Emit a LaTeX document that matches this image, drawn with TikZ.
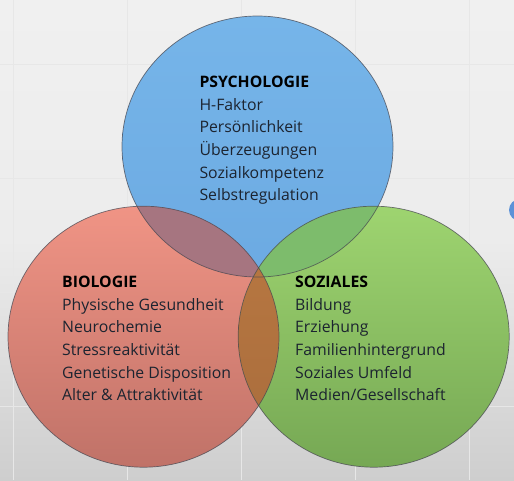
\documentclass[tikz,border=0pt]{standalone}
\usepackage{fontspec}
\setmainfont{Open Sans}
\definecolor{bgtop}{RGB}{240,240,240}
\definecolor{bgmid}{RGB}{236,236,236}
\definecolor{bgbot}{RGB}{206,206,206}
\definecolor{gridc}{RGB}{231,231,231}
\definecolor{bluetop}{RGB}{118,181,233}
\definecolor{bluebot}{RGB}{108,170,226}
\definecolor{redtop}{RGB}{240,148,133}
\definecolor{redbot}{RGB}{192,114,104}
\definecolor{greentop}{RGB}{158,212,112}
\definecolor{greenbot}{RGB}{118,168,84}
\definecolor{mauve}{RGB}{166,117,128}
\definecolor{bgreen}{RGB}{125,188,108}
\definecolor{browntop}{RGB}{186,121,66}
\definecolor{brownbot}{RGB}{168,108,60}
\definecolor{dotblue}{RGB}{92,146,216}
\definecolor{txt}{RGB}{28,36,48}
\definecolor{edge}{RGB}{70,70,80}
\tikzset{
  lbl/.style={anchor=base west, inner sep=0pt, font=\fontsize{15.8}{18}\selectfont, text=txt},
  ttl/.style={anchor=base west, inner sep=0pt, font=\fontsize{15.8}{18}\selectfont\bfseries, text=black},
  rim/.style={draw=edge, draw opacity=0.75, line width=0.7pt},
  ell/.style={x radius=135.5pt, y radius=130.5pt}
}
\begin{document}
\begin{tikzpicture}[x=1pt,y=-1pt]
  \useasboundingbox (0,0) rectangle (514,480);
  % background
  \shade[top color=bgtop, bottom color=bgbot, middle color=bgmid] (0,0) rectangle (514,480);
  \foreach \gx in {13,127,241,355,469} \draw[gridc, line width=0.8pt] (\gx,0) -- (\gx,480);
  \foreach \gy in {64,178,292,406} \draw[gridc, line width=0.8pt] (0,\gy) -- (514,\gy);
  % small dot at right edge
  \fill[dotblue] (520,210) circle[radius=11pt];
  % centres
  \coordinate (cb) at (257.5,146.5);
  \coordinate (cr) at (143.5,336.7);
  \coordinate (cg) at (373.7,336.7);
  % base fills
  \shade[top color=bluetop, bottom color=bluebot] (cb) ellipse[ell];
  \shade[top color=redtop, bottom color=redbot] (cr) ellipse[ell];
  \shade[top color=greentop, bottom color=greenbot] (cg) ellipse[ell];
  % overlaps
  \begin{scope}
    \clip (cr) ellipse[ell];
    \fill[mauve] (cb) ellipse[ell];
  \end{scope}
  \begin{scope}
    \clip (cg) ellipse[ell];
    \fill[bgreen] (cb) ellipse[ell];
  \end{scope}
  \begin{scope}
    \clip (cr) ellipse[ell];
    \shade[top color=browntop, bottom color=brownbot] (cg) ellipse[ell];
  \end{scope}
  % outlines
  \draw[rim] (cb) ellipse[ell];
  \draw[rim] (cr) ellipse[ell];
  \draw[rim] (cg) ellipse[ell];
  % Psychologie
  \node[ttl] (p0) at (199.3,87.3) {PSYCHOLOGIE};
  \node[lbl] (p1) at (199.3,110) {H-Faktor};
  \node[lbl] (p2) at (199.3,132.6) {Persönlichkeit};
  \node[lbl] (p3) at (199.3,155.3) {Überzeugungen};
  \node[lbl] (p4) at (199.3,178) {Sozialkompetenz};
  \node[lbl] (p5) at (199.3,200.6) {Selbstregulation};
  % Biologie
  \node[ttl] (b0) at (62,287.3) {BIOLOGIE};
  \node[lbl] (b1) at (62,310) {Physische Gesundheit};
  \node[lbl] (b2) at (62,332.7) {Neurochemie};
  \node[lbl] (b3) at (62,355.3) {Stressreaktivität};
  \node[lbl] (b4) at (62,378) {Genetische Disposition};
  \node[lbl] (b5) at (62,400.7) {Alter \& Attraktivität};
  % Soziales
  \node[ttl] (s0) at (295,287.3) {SOZIALES};
  \node[lbl] (s1) at (295,310) {Bildung};
  \node[lbl] (s2) at (295,332.7) {Erziehung};
  \node[lbl] (s3) at (295,355.3) {Familienhintergrund};
  \node[lbl] (s4) at (295,378) {Soziales Umfeld};
  \node[lbl] (s5) at (295,400.7) {Medien/Gesellschaft};
\end{tikzpicture}
\end{document}
